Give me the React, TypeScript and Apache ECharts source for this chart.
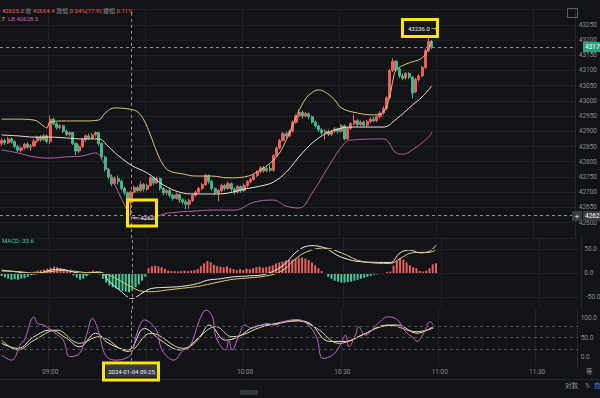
import React, { useEffect, useRef } from "react";
import * as echarts from "echarts";

const FONT = "Roboto, 'Noto Sans CJK SC', sans-serif";
const BG = "#121317";
const GRID = "#1f2126";
const AXIS_TXT = "#8a8d93";
const UP = "#e8605c";
const DOWN = "#3bb98a";

// 1-minute categories, 08:45 .. 11:42
const times: string[] = [];
for (let m = 8 * 60 + 45; m < 8 * 60 + 45 + 178; m++) {
  const h = Math.floor(m / 60);
  const mm = m % 60;
  times.push(`${String(h).padStart(2, "0")}:${String(mm).padStart(2, "0")}`);
}
// vertical grid lines every 30 minutes; 09:30's label is hidden under the crosshair tag
const gridTimes = ["09:00", "09:30", "10:00", "10:30", "11:00", "11:30"];
const tickLabels = ["09:00", "10:00", "10:30", "11:00", "11:30"];
const crossTime = "09:25";

// [open, close, low, high]
const candles: number[][] = [
  [42860, 42870, 42852, 42878], [42870, 42862, 42855, 42876], [42862, 42875, 42858, 42882], [42875, 42866, 42860, 42880],
  [42866, 42850, 42845, 42870], [42850, 42838, 42832, 42855], [42838, 42845, 42830, 42850], [42845, 42858, 42840, 42862],
  [42858, 42848, 42842, 42864], [42848, 42852, 42836, 42858], [42852, 42868, 42848, 42874], [42868, 42880, 42862, 42886],
  [42880, 42872, 42866, 42888], [42872, 42885, 42868, 42892], [42885, 42866, 42860, 42890], [42866, 42940, 42858, 42952],
  [42940, 42925, 42920, 42945], [42925, 42912, 42905, 42930], [42912, 42918, 42906, 42924], [42918, 42900, 42895, 42922],
  [42900, 42890, 42884, 42905], [42890, 42896, 42882, 42900], [42896, 42860, 42855, 42898], [42860, 42835, 42822, 42864],
  [42835, 42850, 42828, 42856], [42850, 42872, 42845, 42878], [42872, 42885, 42866, 42890], [42885, 42878, 42872, 42892],
  [42878, 42888, 42874, 42894], [42888, 42896, 42882, 42900], [42896, 42860, 42852, 42898], [42860, 42815, 42808, 42864],
  [42815, 42775, 42768, 42820], [42775, 42750, 42742, 42780], [42750, 42728, 42720, 42758], [42728, 42745, 42722, 42752],
  [42745, 42735, 42725, 42755], [42735, 42712, 42705, 42740], [42712, 42698, 42690, 42718], [42698, 42665, 42660, 42702],
  [42665, 42700, 42625, 42705], [42700, 42715, 42695, 42722], [42715, 42705, 42698, 42720], [42705, 42725, 42700, 42735],
  [42725, 42710, 42702, 42730], [42710, 42722, 42705, 42728], [42722, 42748, 42718, 42752], [42748, 42730, 42722, 42752],
  [42730, 42745, 42726, 42750], [42745, 42712, 42705, 42748], [42712, 42698, 42690, 42716], [42698, 42705, 42690, 42710],
  [42705, 42690, 42682, 42710], [42690, 42680, 42672, 42695], [42680, 42692, 42675, 42698], [42692, 42675, 42665, 42696],
  [42675, 42668, 42660, 42680], [42668, 42660, 42645, 42676], [42660, 42672, 42645, 42678], [42672, 42690, 42668, 42695],
  [42690, 42700, 42685, 42705], [42700, 42712, 42695, 42718], [42712, 42725, 42705, 42730], [42725, 42755, 42720, 42760],
  [42755, 42735, 42728, 42758], [42735, 42712, 42705, 42740], [42712, 42698, 42690, 42716], [42698, 42705, 42670, 42710],
  [42705, 42722, 42700, 42728], [42722, 42712, 42705, 42728], [42712, 42728, 42708, 42735], [42728, 42710, 42702, 42732],
  [42710, 42700, 42692, 42716], [42700, 42718, 42695, 42724], [42718, 42705, 42698, 42722], [42705, 42722, 42700, 42728],
  [42722, 42735, 42715, 42740], [42735, 42742, 42728, 42748], [42742, 42755, 42738, 42760], [42755, 42768, 42750, 42772],
  [42768, 42780, 42762, 42786], [42780, 42770, 42764, 42786], [42770, 42778, 42765, 42784], [42778, 42772, 42766, 42790],
  [42772, 42820, 42768, 42825], [42820, 42845, 42815, 42850], [42845, 42870, 42840, 42875], [42870, 42892, 42865, 42898],
  [42892, 42885, 42878, 42900], [42885, 42900, 42880, 42905], [42900, 42930, 42896, 42935], [42930, 42950, 42925, 42956],
  [42950, 42962, 42945, 42972], [42962, 42950, 42942, 42968], [42950, 42958, 42946, 42964], [42958, 42948, 42940, 42962],
  [42948, 42930, 42925, 42952], [42930, 42918, 42912, 42935], [42918, 42905, 42898, 42922], [42905, 42895, 42888, 42910],
  [42895, 42900, 42872, 42906], [42900, 42890, 42884, 42906], [42890, 42900, 42885, 42905], [42900, 42908, 42895, 42914],
  [42908, 42900, 42893, 42912], [42900, 42918, 42895, 42924], [42918, 42875, 42870, 42922], [42875, 42910, 42872, 42915],
  [42910, 42925, 42905, 42930], [42925, 42935, 42920, 42955], [42935, 42922, 42915, 42940], [42922, 42930, 42918, 42936],
  [42930, 42920, 42914, 42934], [42920, 42932, 42915, 42938], [42932, 42940, 42926, 42946], [42940, 42935, 42930, 42948],
  [42935, 42948, 42930, 42952], [42948, 42960, 42942, 42966], [42960, 42975, 42955, 42982], [42975, 43010, 42968, 43015],
  [43010, 43100, 43005, 43105], [43100, 43130, 43095, 43140], [43130, 43105, 43098, 43134], [43105, 43082, 43075, 43110],
  [43082, 43075, 43068, 43090], [43075, 43090, 43070, 43095], [43090, 43078, 43072, 43094], [43078, 43025, 43008, 43082],
  [43030, 43070, 43025, 43076], [43070, 43082, 43064, 43088], [43082, 43110, 43078, 43115], [43110, 43165, 43105, 43172],
  [43165, 43195, 43160, 43236], [43195, 43176, 43170, 43200],
];

// Bollinger bands, sampled [candle index, price]
const bollUpper: number[][] = [
  [0, 42940], [5, 42940], [10, 42937], [13, 42917], [14, 42911], [15, 42931], [20, 42934], [25, 42934], [30, 42937],
  [32, 42960], [35, 42977], [40, 42972], [42, 42964], [44, 42937], [46, 42888], [48, 42832], [50, 42789], [52, 42769],
  [56, 42760], [60, 42753], [65, 42753], [70, 42747], [75, 42750], [80, 42773], [85, 42816], [88, 42871], [90, 42921],
  [93, 42990], [95, 43019], [98, 43036], [100, 43029], [103, 43003], [105, 42977], [110, 42960], [115, 42954],
  [118, 42963], [120, 43016], [121, 43069], [122, 43101], [125, 43121], [130, 43141], [132, 43174], [133, 43197],
];
const bollMid: number[][] = [
  [0, 42888], [5, 42885], [10, 42881], [15, 42881], [20, 42878], [25, 42875], [30, 42875], [33, 42850], [35, 42830],
  [40, 42789], [45, 42763], [50, 42724], [55, 42700], [60, 42694], [65, 42694], [70, 42697], [75, 42710], [80, 42720],
  [84, 42733], [88, 42766], [93, 42829], [98, 42878], [103, 42904], [108, 42914], [118, 42914], [122, 42940],
  [127, 42986], [130, 43013], [133, 43049],
];
const bollLower: number[][] = [
  [0, 42839], [5, 42829], [10, 42816], [15, 42812], [20, 42816], [25, 42819], [29, 42829], [32, 42789], [35, 42724],
  [38, 42658], [40, 42620], [43, 42612], [46, 42612], [50, 42628], [55, 42635], [60, 42638], [65, 42641], [72, 42641],
  [78, 42667], [84, 42674], [88, 42654], [92, 42648], [96, 42697], [101, 42783], [106, 42861], [108, 42871],
  [118, 42875], [122, 42829], [124, 42825], [127, 42839], [132, 42881], [133, 42897],
];

// MACD histogram, one per candle
const macdHist: number[] = [
  -6, -9, -12, -14, -13, -14, -12, -11, -8, -4,
  3, 5, 6, 7, 9, 11, 13, 12, 10, 8, 6, 4,
  -5, -10, -14, -12, -7, 3, 5, 4,
  -3, -12, -20, -26, -30, -32, -35, -37, -39, -40, -36, -30, -24, -16, -8,
  10, 14, 15, 14, 12, 9,
  5, 4, 4, 3, 4, 5, 4, 5, 6, 8,
  14, 20, 25, 22, 17,
  14, 13, 12, 14, 10, 8,
  6, 8, 6, 9, 8,
  10, 12, 13, 11, 12,
  14, 16, 20, 22, 24, 26, 27, 28, 30, 32,
  32, 30, 27, 22, 16, 10, 4,
  -2, -8, -12, -16, -18, -20, -20, -19, -18, -16, -14, -12, -10, -8, -6, -4, -3, -2, -1,
  2, 3,
  15, 25, 31, 28, 22, 16,
  12, 10,
  4, 3, 5,
  10, 18, 20,
];
const macdDif: number[][] = [
  [0, 6], [5, 2], [10, -2], [15, 6], [18, 8], [22, 2], [26, -2], [30, 2], [33, -18], [36, -35], [40, -53], [43, -42],
  [46, -32], [50, -30], [55, -28], [60, -22], [63, -15], [67, -12], [71, -8], [76, -6], [81, -2], [86, 15], [91, 48],
  [95, 57], [99, 52], [104, 33], [111, 23], [119, 22], [122, 42], [125, 48], [128, 42], [131, 45], [133, 58],
];
const macdDea: number[][] = [
  [0, 4], [5, 3], [10, 0], [15, 3], [18, 5], [22, 4], [26, 1], [30, 1], [33, -5], [36, -15], [40, -30], [43, -38],
  [46, -39], [50, -36], [55, -32], [60, -28], [63, -24], [67, -18], [71, -13], [76, -10], [81, -6], [86, 5], [91, 35],
  [95, 48], [99, 52], [104, 42], [111, 23], [119, 20], [122, 30], [125, 41], [128, 43], [131, 43], [133, 49],
];

// KDJ
const kdjK: number[][] = [
  [0, 35], [5, 22], [10, 52], [15, 69], [20, 48], [24, 26], [29, 61], [33, 35], [39, 18], [44, 73], [49, 43], [55, 18],
  [61, 52], [64, 82], [69, 43], [73, 52], [78, 78], [84, 84], [91, 93], [95, 86], [101, 40], [106, 40], [111, 56],
  [117, 78], [122, 82], [128, 61], [133, 78],
];
const kdjD: number[][] = [
  [0, 43], [5, 18], [10, 43], [17, 69], [24, 35], [30, 52], [39, 14], [46, 61], [56, 22], [66, 78], [71, 52], [81, 79],
  [91, 93], [97, 74], [104, 35], [111, 56], [119, 82], [128, 65], [133, 74],
];
const kdjJ: number[][] = [
  [0, 5], [3, -8], [6, 35], [7, 43], [10, 103], [11, 86], [13, 82], [16, 64], [19, 43], [21, 1], [24, 9], [26, 52],
  [28, 99], [30, 61], [32, 5], [35, -8], [38, -4], [40, 9], [42, 69], [44, 95], [46, 86], [48, 64], [49, 26], [51, 1],
  [53, -8], [56, 18], [58, 26], [61, 95], [63, 120], [65, 103], [66, 52], [69, 18], [70, 43], [71, 18], [73, 52],
  [75, 82], [77, 74], [80, 82], [82, 86], [84, 82], [87, 91], [91, 96], [94, 86], [97, 52], [99, -4], [102, 5],
  [104, 26], [106, 56], [107, 26], [109, 56], [110, 78], [112, 56], [116, 86], [119, 103], [122, 95], [124, 69],
  [127, 48], [128, 40], [130, 61], [132, 91], [133, 82],
];

const lastPrice = 43176;
const crossPrice = 42625;
const macdLowTick = -50;

const every50 = (v: number) => {
  const r = Math.round(v);
  return Math.abs(r) % 50 === 0 ? r.toFixed(1) : "";
};

export default function App() {
  const ref = useRef<HTMLDivElement>(null);
  useEffect(() => {
    const chart = echarts.init(ref.current!, null, { renderer: "svg" });
    const dash = { type: [3, 3], color: "#8d9097", width: 1 };
    const crossLine = { xAxis: crossTime, lineStyle: dash };
    const showLabel = (_i: number, v: string) => tickLabels.includes(v);
    const showGrid = (_i: number, v: string) => gridTimes.includes(v);
    const xAxis = (gridIndex: number, labels: boolean) => ({
      type: "category",
      gridIndex,
      data: times,
      boundaryGap: true,
      axisLine: { show: false },
      axisTick: { show: false },
      axisLabel: {
        show: labels,
        interval: showLabel,
        color: AXIS_TXT,
        fontSize: 6.5,
        fontFamily: FONT,
        margin: 2,
      },
      splitLine: { show: true, interval: showGrid, lineStyle: { color: GRID, width: 1 } },
    });
    const yLabel = {
      color: AXIS_TXT,
      fontSize: 6.5,
      fontFamily: FONT,
      margin: 3,
    };
    const mkBase = { symbol: ["none", "none"], silent: true, label: { show: false }, animation: false };
    const lineS = (name: string, data: number[][], color: string, xi: number, yi: number) => ({
      name,
      type: "line",
      xAxisIndex: xi,
      yAxisIndex: yi,
      data,
      smooth: 0.4,
      showSymbol: false,
      lineStyle: { color, width: 1 },
      z: 3,
    });

    const graphics: any[] = [
      {
        type: "text", x: 2, y: 10, z: 100,
        style: {
          text: "{v|42625.0} {l|收} {v|42664.4} {l|涨幅} {v|0.04%(17.9)} {l|振幅} {v|0.11%}",
          verticalAlign: "middle", font: `6px ${FONT}`,
          rich: {
            v: { fill: "#e8605c", fontSize: 6, fontFamily: FONT },
            l: { fill: AXIS_TXT, fontSize: 6, fontFamily: FONT },
          },
        },
      },
      {
        type: "text", x: 0, y: 18.5, z: 100,
        style: {
          text: "{y|.7}  {p|LB 42628.5}", verticalAlign: "middle", font: `6px ${FONT}`,
          rich: {
            y: { fill: "#e2c64e", fontSize: 6, fontFamily: FONT },
            p: { fill: "#c86bb8", fontSize: 6, fontFamily: FONT },
          },
        },
      },
      {
        type: "text", x: 2, y: 240, z: 100,
        style: { text: "MACD:-33.6", fill: "#3ecb95", font: `6px ${FONT}`, verticalAlign: "middle" },
      },
      // top-right icon
      {
        type: "rect", z: 100, shape: { x: 567.5, y: 8.5, width: 10, height: 9 },
        style: { fill: "none", stroke: "#5b5e65", lineWidth: 1 },
      },
      // current price tag
      { type: "rect", z: 100, shape: { x: 583, y: 42, width: 20, height: 10 }, style: { fill: "#26a477" } },
      {
        type: "text", z: 101, x: 585, y: 47,
        style: { text: "43176", fill: "#ffffff", font: `6.5px ${FONT}`, verticalAlign: "middle" },
      },
      // crosshair price tag
      { type: "rect", z: 100, shape: { x: 572, y: 211, width: 10, height: 10 }, style: { fill: "#3a3d44" } },
      {
        type: "text", z: 101, x: 577, y: 216,
        style: { text: "+", fill: "#e6e6e6", font: `8px ${FONT}`, align: "center", verticalAlign: "middle" },
      },
      { type: "rect", z: 100, shape: { x: 583, y: 211, width: 20, height: 10 }, style: { fill: "#3a3d44" } },
      {
        type: "text", z: 101, x: 585, y: 216,
        style: { text: "42625", fill: "#ffffff", font: `6.5px ${FONT}`, verticalAlign: "middle" },
      },
      // high marker in yellow box
      { type: "rect", z: 100, shape: { x: 403, y: 20, width: 34, height: 16 }, style: { fill: "#151619" } },
      {
        type: "text", z: 101, x: 408, y: 28,
        style: { text: "43236.0 →", fill: "#f0f0f0", font: `6px ${FONT}`, verticalAlign: "middle" },
      },
      {
        type: "rect", z: 102, shape: { x: 402.5, y: 19.5, width: 35, height: 17 },
        style: { fill: "none", stroke: "#ffe600", lineWidth: 3 },
      },
      // low marker in yellow box
      {
        type: "text", z: 101, x: 133, y: 217,
        style: { text: "← 42625", fill: "#f0f0f0", font: `6px ${FONT}`, verticalAlign: "middle" },
      },
      {
        type: "rect", z: 102, shape: { x: 127.5, y: 200, width: 29, height: 26 },
        style: { fill: "none", stroke: "#ffe600", lineWidth: 3 },
      },
      // crosshair time label
      { type: "rect", z: 100, shape: { x: 106, y: 365, width: 51, height: 12 }, style: { fill: "#363940" } },
      {
        type: "text", z: 101, x: 131.5, y: 371,
        style: { text: "2024-01-04 09:25", fill: "#f0f0f0", font: `6px ${FONT}`, align: "center", verticalAlign: "middle" },
      },
      {
        type: "rect", z: 102, shape: { x: 103.5, y: 363, width: 55, height: 17 },
        style: { fill: "none", stroke: "#ffe600", lineWidth: 3 },
      },
      // right of time axis
      {
        type: "text", z: 100, x: 586, y: 372,
        style: { text: "等", fill: AXIS_TXT, font: `6.5px ${FONT}`, verticalAlign: "middle" },
      },
      // bottom toolbar
      { type: "line", z: 100, shape: { x1: 0, y1: 379.5, x2: 600, y2: 379.5 }, style: { stroke: "#24262b", lineWidth: 1 } },
      {
        type: "text", z: 100, x: 565, y: 386,
        style: { text: "对数", fill: AXIS_TXT, font: `6.5px ${FONT}`, verticalAlign: "middle" },
      },
      {
        type: "text", z: 100, x: 585, y: 386,
        style: { text: "%", fill: AXIS_TXT, font: `6.5px ${FONT}`, verticalAlign: "middle" },
      },
      {
        type: "text", z: 100, x: 594, y: 386,
        style: { text: "自", fill: "#3b82f6", font: `6.5px ${FONT}`, verticalAlign: "middle" },
      },
      { type: "rect", z: 100, shape: { x: 240, y: 390, width: 18, height: 5, r: 1 }, style: { fill: "#34373e" } },
    ];

    const option: any = {
      animation: false,
      backgroundColor: BG,
      grid: [
        { left: 0, right: 17, top: 9.6, height: 228.2 },
        { left: 0, right: 17, top: 237, height: 72 },
        { left: 0, right: 17, top: 308.25, height: 58.5 },
      ],
      xAxis: [xAxis(0, false), xAxis(1, false), xAxis(2, true)],
      yAxis: [
        {
          type: "value", gridIndex: 0, position: "right", min: 42550, max: 43300, interval: 50,
          axisLine: { show: true, lineStyle: { color: "#25272c" } }, axisTick: { show: false },
          axisLabel: { ...yLabel, showMinLabel: false, showMaxLabel: false, formatter: (v: number) => String(Math.round(v)) },
          splitLine: { lineStyle: { color: GRID } },
        },
        {
          type: "value", gridIndex: 1, position: "right", min: -75, max: 75, interval: 25,
          axisLine: { show: true, lineStyle: { color: "#25272c" } }, axisTick: { show: false },
          axisLabel: { ...yLabel, formatter: (v: number) => (Math.round(v) === 50 || Math.round(v) === 0 ? every50(v) : "") },
          splitLine: { show: false },
        },
        {
          type: "value", gridIndex: 2, position: "right", min: -25, max: 125, interval: 25,
          axisLine: { show: true, lineStyle: { color: "#25272c" } }, axisTick: { show: false },
          axisLabel: { ...yLabel, formatter: every50 },
          splitLine: { show: false },
        },
      ],
      series: [
        {
          name: "K", type: "candlestick", xAxisIndex: 0, yAxisIndex: 0, data: candles, barWidth: 2.6,
          itemStyle: { color: UP, color0: DOWN, borderColor: UP, borderColor0: DOWN, borderWidth: 1 },
          markLine: {
            ...mkBase,
            data: [
              { yAxis: lastPrice, lineStyle: dash },
              { yAxis: crossPrice, lineStyle: dash },
              crossLine,
            ],
          },
          z: 2,
        },
        lineS("UB", bollUpper, "#d8c773", 0, 0),
        lineS("MB", bollMid, "#e9e4d2", 0, 0),
        lineS("LB", bollLower, "#b2609e", 0, 0),
        {
          name: "MACD", type: "bar", xAxisIndex: 1, yAxisIndex: 1, data: macdHist, barWidth: 2,
          itemStyle: { color: (p: any) => (p.value >= 0 ? UP : "#3ecb95") },
          markLine: {
            ...mkBase,
            data: [
              { yAxis: 50, lineStyle: { color: GRID, type: "solid", width: 1 } },
              { yAxis: 0, lineStyle: { color: GRID, type: "solid", width: 1 } },
              { yAxis: -50, lineStyle: { color: GRID, type: "solid", width: 1 } },
              crossLine,
            ],
          },
        },
        lineS("DIF", macdDif, "#ebebeb", 1, 1),
        lineS("DEA", macdDea, "#dcc96e", 1, 1),
        {
          ...lineS("KDJ-K", kdjK, "#e6e6e6", 2, 2),
          markLine: {
            ...mkBase,
            data: [
              { yAxis: 80, lineStyle: { color: "#4d5057", type: [3, 3], width: 1 } },
              { yAxis: 50, lineStyle: { color: "#4d5057", type: [3, 3], width: 1 } },
              { yAxis: 20, lineStyle: { color: "#4d5057", type: [3, 3], width: 1 } },
              crossLine,
            ],
          },
        },
        lineS("KDJ-D", kdjD, "#e2d184", 2, 2),
        lineS("KDJ-J", kdjJ, "#c466c0", 2, 2),
      ],
      graphic: graphics,
    };
    chart.setOption(option);

    // the MACD pane's lower tick label, placed through the axis scale
    const yLow = chart.convertToPixel({ yAxisIndex: 1 }, macdLowTick) as number;
    chart.setOption({
      graphic: [
        ...graphics,
        {
          type: "text", z: 100, x: 586, y: yLow,
          style: { text: macdLowTick.toFixed(1), fill: AXIS_TXT, font: `6.5px ${FONT}`, verticalAlign: "middle" },
        },
      ],
    });
    return () => chart.dispose();
  }, []);
  return <div ref={ref} style={{ position: "fixed", left: 0, top: 0, width: 600, height: 398 }} />;
}
